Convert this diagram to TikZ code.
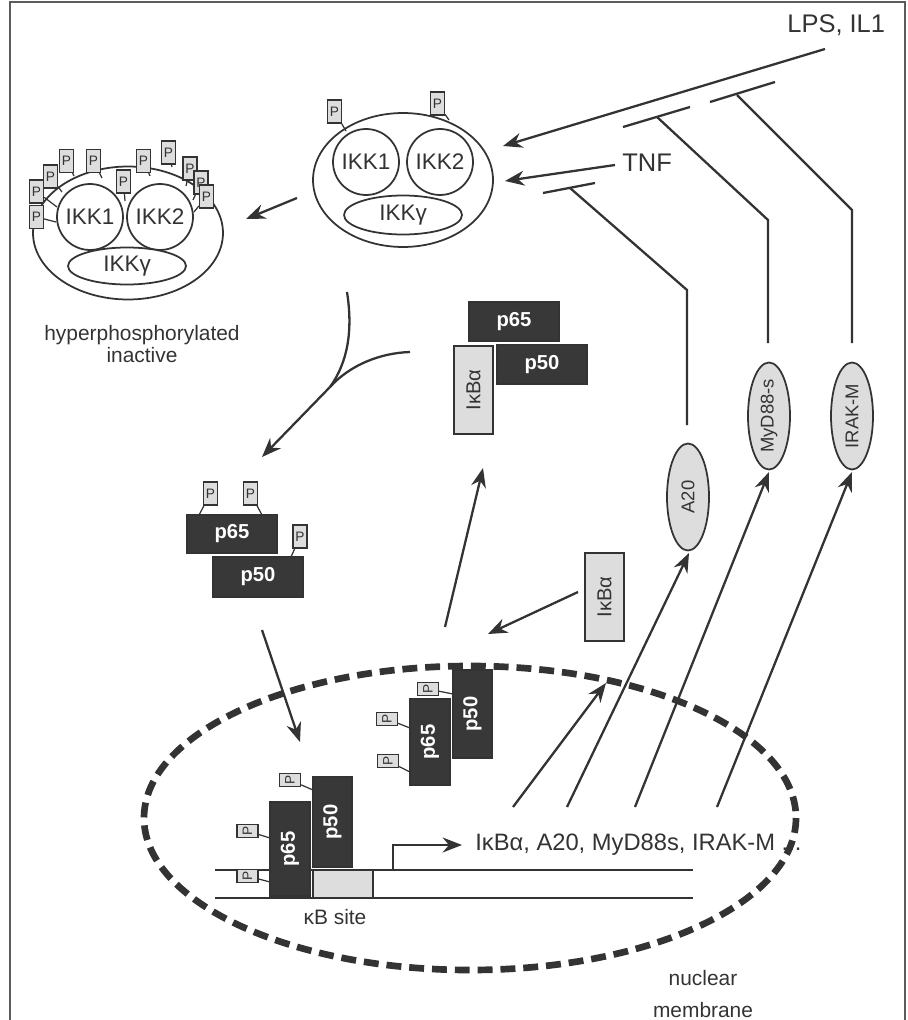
\documentclass[tikz,border=0pt]{standalone}
\usepackage{fontspec}
\setmainfont{Liberation Sans}
\usetikzlibrary{arrows.meta,calc,shapes.geometric}

\definecolor{ink}{HTML}{333333}
\definecolor{darkfill}{HTML}{383838}
\definecolor{lightfill}{HTML}{DDDDDD}

\def\fsig{\fontsize{14.5}{16}\selectfont}
\def\fikk{\fontsize{12.8}{14}\selectfont}
\def\flab{\fontsize{11.9}{13}\selectfont}
\def\fnfkb{\bfseries\fontsize{11.5}{13}\selectfont}
\def\fikb{\fontsize{11.5}{13}\selectfont}
\def\fP{\fontsize{7.8}{8}\selectfont}
\def\finh{\fontsize{10.5}{12}\selectfont}
\def\fgene{\fontsize{13.5}{15}\selectfont}

\tikzset{
  border/.style={draw=ink!80, line width=0.9pt},
  cplx/.style={ellipse, draw=ink, line width=1pt, fill=white, minimum width=3.6cm, minimum height=2.68cm, inner sep=0pt},
  ikk/.style={circle, draw=ink, line width=1pt, fill=white, minimum size=1.32cm, inner sep=0pt, text=ink, font=\fikk},
  gam/.style={ellipse, draw=ink, line width=1pt, fill=white, minimum width=2.36cm, minimum height=0.78cm, inner sep=0pt, text=ink, font=\fikk},
  ptag/.style={draw=ink, fill=lightfill, line width=0.7pt, minimum width=0.28cm, minimum height=0.46cm, inner sep=0pt, text=ink, font=\fP},
  rtag/.style={ptag, rotate=90, minimum width=0.26cm, minimum height=0.42cm},
  tagline/.style={draw=ink, line width=0.7pt},
  pbox/.style={draw=ink, fill=darkfill, text=white, font=\fnfkb, line width=0.6pt, inner sep=0pt},
  ibox/.style={draw=ink, fill=lightfill, text=ink, font=\fikb, line width=1pt, inner sep=0pt, rotate=90, minimum width=1.76cm, minimum height=0.78cm},
  inh/.style={ellipse, draw=ink, fill=lightfill, line width=1pt, rotate=90, minimum width=2.14cm, minimum height=0.84cm, inner sep=0pt, text=ink, font=\finh},
  arr/.style={draw=ink, line width=1.3pt, -{Stealth[length=11pt,width=8.5pt]}},
  link/.style={draw=ink, line width=1.3pt},
  membrane/.style={draw=ink, line width=3.8pt, dash pattern=on 8.5pt off 4.5pt},
  txt/.style={text=ink, inner sep=0pt},
}

\begin{document}
\begin{tikzpicture}[x=0.02cm,y=-0.02cm]
%%%%% START %%%%%
\useasboundingbox (0,0) rectangle (908,1020);
\draw[border] (10,1020) -- (10,2) -- (905,2) -- (905,1020);

% active IKK complex
\node[cplx] (act) at (403,180) {};
\node[ikk] (act1) at (366,162) {IKK1};
\node[ikk] (act2) at (440,162) {IKK2};
\node[gam] (actg) at (403,215) {IKKγ};
\node[ptag] (pa1) at (334.5,111.5) {P};
\node[ptag] (pa2) at (437.5,103.5) {P};
\draw[tagline] (pa1) -- (346,131);
\draw[tagline] (pa2) -- (449,120);

% hyperphosphorylated complex
\node[cplx, minimum width=3.8cm, minimum height=2.66cm] (hyp) at (128,233) {};
\node[ikk] (hyp1) at (90,217) {IKK1};
\node[ikk] (hyp2) at (160,217) {IKK2};
\node[gam, minimum height=0.74cm] (hypg) at (127,266) {IKKγ};
\foreach \n/\p/\q in {1/{36.5,191.5}/{57,207}, 2/{36.5,217}/{56,222}, 3/{50.5,176.5}/{62,192},
    4/{66.5,161}/{74,176}, 5/{93.5,161}/{102,178}, 6/{123.5,181.5}/{125,201},
    7/{143.5,161}/{150,176}, 8/{168.5,152.5}/{172,167}, 9/{190,168.5}/{186,186},
    10/{201,182.5}/{193,200}, 11/{206.5,196.5}/{194,212}}{
  \node[ptag] (ph\n) at (\p) {P};
  \draw[tagline] (ph\n) -- (\q);
}
\node[txt, font=\flab, align=center] (hyplab) at (142,344) {hyperphosphorylated\\inactive};

\coordinate (inS) at (297,198);
\coordinate (inE) at (246,219);
\draw[arr] (inS) -- (inE);

% signals
\node[txt, font=\fsig, anchor=west] (lps) at (787,25) {LPS, IL1};
\node[txt, font=\fsig, anchor=west] (tnf) at (622,163) {TNF};
\coordinate (lpsS) at (825,49);
\coordinate (lpsE) at (503,146);
\coordinate (tnfS) at (615,165);
\coordinate (tnfE) at (505,181);
\draw[arr] (lpsS) -- (lpsE);
\draw[arr] (tnfS) -- (tnfE);

% feedback inhibitors
\node[inh] (a20) at (688,497) {A20};
\node[inh] (myd) at (769,416) {MyD88-s};
\node[inh] (irak) at (852,416) {IRAK-M};
\draw[link] (543,193) -- (595,183);
\draw[link] (570,188) -- (687,290) -- (687,425);
\draw[link] (623,127) -- (690,107);
\draw[link] (657,117) -- (768,220) -- (768,343);
\draw[link] (710,102) -- (775,82);
\draw[link] (737,95) -- (852,210) -- (852,343);

% cytoplasmic NF-kB / IkBa
\node[pbox, minimum width=1.8cm, minimum height=0.78cm] (cp65) at (514,321.5) {p65};
\node[pbox, minimum width=1.8cm, minimum height=0.78cm] (cp50) at (542,364.5) {p50};
\node[ibox] (cikb) at (473.5,390) {IκBα};

% converging degradation path
\coordinate (y1) at (347,292);
\coordinate (y2) at (410,352);
\coordinate (yj) at (330,387);
\coordinate (yE) at (262,457);
\draw[link] (y1) .. controls (353,330) and (348,362) .. (yj);
\draw[link] (y2) .. controls (380,353) and (350,365) .. (yj);
\draw[arr] (yj) -- (yE);

% free phosphorylated p65/p50
\node[pbox, minimum width=1.8cm, minimum height=0.76cm] (fp65) at (232,534) {p65};
\node[pbox, minimum width=1.8cm, minimum height=0.8cm] (fp50) at (258,577) {p50};
\node[ptag] (pf1) at (210.5,493.5) {P};
\node[ptag] (pf2) at (250.5,493.5) {P};
\node[ptag] (pf3) at (300,536.5) {P};
\draw[tagline] (pf1) -- (199,515);
\draw[tagline] (pf2) -- (262,515);
\draw[tagline] (pf3) -- (291,557);

\coordinate (nS) at (262,630);
\coordinate (nE) at (300,742);
\draw[arr] (nS) -- (nE);

% free IkBa
\node[ibox] (fikb) at (604.5,597) {IκBα};

% nuclear membrane
\draw[membrane] (470,818) ellipse [x radius=326, y radius=152];
\node[txt, font=\flab, anchor=base] (nm1) at (703,985) {nuclear};
\node[txt, font=\flab, anchor=base] (nm2) at (703,1017) {membrane};

% exporting complex
\node[pbox, rotate=90, minimum width=1.72cm, minimum height=0.8cm] (mp65) at (430,742) {p65};
\node[pbox, rotate=90, minimum width=1.76cm, minimum height=0.78cm] (mp50) at (472.5,714) {p50};
\node[rtag] (pm1) at (387,719) {P};
\node[rtag] (pm2) at (388,761) {P};
\node[rtag] (pm3) at (428,689) {P};
\draw[tagline] (pm1) -- (410,728);
\draw[tagline] (pm2) -- (410,772);
\draw[tagline] (pm3) -- (453,694);

\coordinate (xS) at (445,627);
\coordinate (xE) at (483,468);
\draw[arr] (xS) -- (xE);
\coordinate (iS) at (578,592);
\coordinate (iE) at (488,634);
\draw[arr] (iS) -- (iE);

% DNA with kB site
\node[draw=ink, fill=lightfill, line width=0.8pt, minimum width=1.2cm, minimum height=0.56cm, inner sep=0pt] (kb) at (343,884) {};
\draw[link] (215,870) -- (693,870);
\draw[link] (215,898) -- (693,898);
\node[txt, font=\flab] (kblab) at (335,917) {κB site};

\node[pbox, rotate=90, minimum width=1.88cm, minimum height=0.8cm] (np65) at (290,849) {p65};
\node[pbox, rotate=90, minimum width=1.8cm, minimum height=0.78cm] (np50) at (332.5,822) {p50};
\node[rtag] (pn1) at (290,780) {P};
\node[rtag] (pn2) at (247.5,831) {P};
\node[rtag] (pn3) at (247.5,876) {P};
\draw[tagline] (pn1) -- (313,790);
\draw[tagline] (pn2) -- (270,838);
\draw[tagline] (pn3) -- (270,882);

% transcription
\coordinate (tss) at (393,870);
\coordinate (tssE) at (462,845);
\draw[arr] (tss) |- (tssE);
\node[txt, font=\fgene, anchor=west] (genes) at (475,845) {IκBα, A20, MyD88s, IRAK-M ...};

\foreach \s/\e in {{513,807}/{606,683}, {567,807}/{689,553}, {635,807}/{769,472}, {717,807}/{852,472}}{
  \draw[arr] (\s) -- (\e);
}
%%%%% END %%%%%
\end{tikzpicture}
\end{document}
